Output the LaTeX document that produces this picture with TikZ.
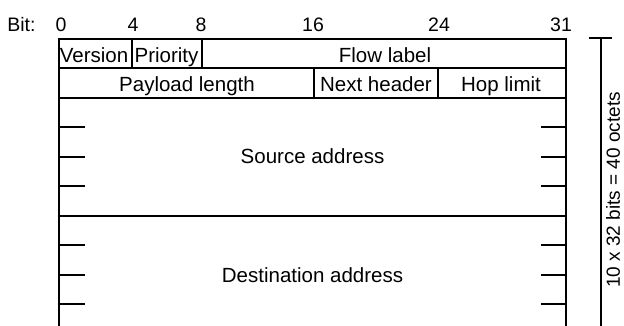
\documentclass[tikz,border=0pt]{standalone}
\usepackage{fontspec}
\setmainfont{Liberation Sans}
\begin{document}
\begin{tikzpicture}[x=1pt,y=-1pt,
  frame/.style={line width=1.4pt,line cap=rect},
  lbl/.style={inner sep=0pt,anchor=base,font=\fontsize{20.5}{21}\selectfont},
  bitlbl/.style={inner sep=0pt,anchor=base,font=\fontsize{19.5}{20}\selectfont},
  sizelbl/.style={inner sep=0pt,font=\fontsize{19}{20}\selectfont}]
\useasboundingbox (0,0) rectangle (624,326);
% coordinates of the frame
\coordinate (TL) at (59,39);
\coordinate (TR) at (566,39);
\coordinate (BL) at (59,326);
\coordinate (BR) at (566,326);
% outer frame (open at bottom)
\draw[frame] (BL) -- (TL) -- (TR) -- (BR);
% row separators
\draw[frame] (59,68) -- (566,68);
\draw[frame] (59,98) -- (566,98);
\draw[frame] (59,216) -- (566,216);
% field dividers
\draw[frame] (132,39) -- (132,68);
\draw[frame] (202,39) -- (202,68);
\draw[frame] (314,68) -- (314,98);
\draw[frame] (438,68) -- (438,98);
% ticks
\foreach \y in {127,157,186,245,275,304}{
  \draw[frame] (59,\y) -- (84,\y);
  \draw[frame] (542,\y) -- (566,\y);
}
% bit labels
\node[bitlbl] (bit) at (21.5,32) {Bit:};
\node[bitlbl] (b0) at (61,32) {0};
\node[bitlbl] (b4) at (133,32) {4};
\node[bitlbl] (b8) at (201,32) {8};
\node[bitlbl] (b16) at (313,32) {16};
\node[bitlbl] (b24) at (439,32) {24};
\node[bitlbl] (b31) at (561,32) {31};
% field labels
\node[lbl] (ver) at (94,63) {Version};
\node[lbl] (pri) at (166.5,63) {Priority};
\node[lbl] (flow) at (385,63) {Flow label};
\node[lbl] (pay) at (187,92) {Payload length};
\node[lbl] (nh) at (376,92) {Next header};
\node[lbl] (hop) at (501,92) {Hop limit};
\node[lbl] (src) at (312.5,164) {Source address};
\node[lbl] (dst) at (312.5,282) {Destination address};
% size measure
\coordinate (mtop) at (601,38);
\coordinate (mbot) at (601,326);
\draw[frame] (590,38) -- (611,38);
\draw[line width=1.4pt] (mtop) -- (mbot);
\node[sizelbl,rotate=90] (size) at (613,190) {10 x 32 bits = 40 octets};
\end{tikzpicture}
\end{document}
